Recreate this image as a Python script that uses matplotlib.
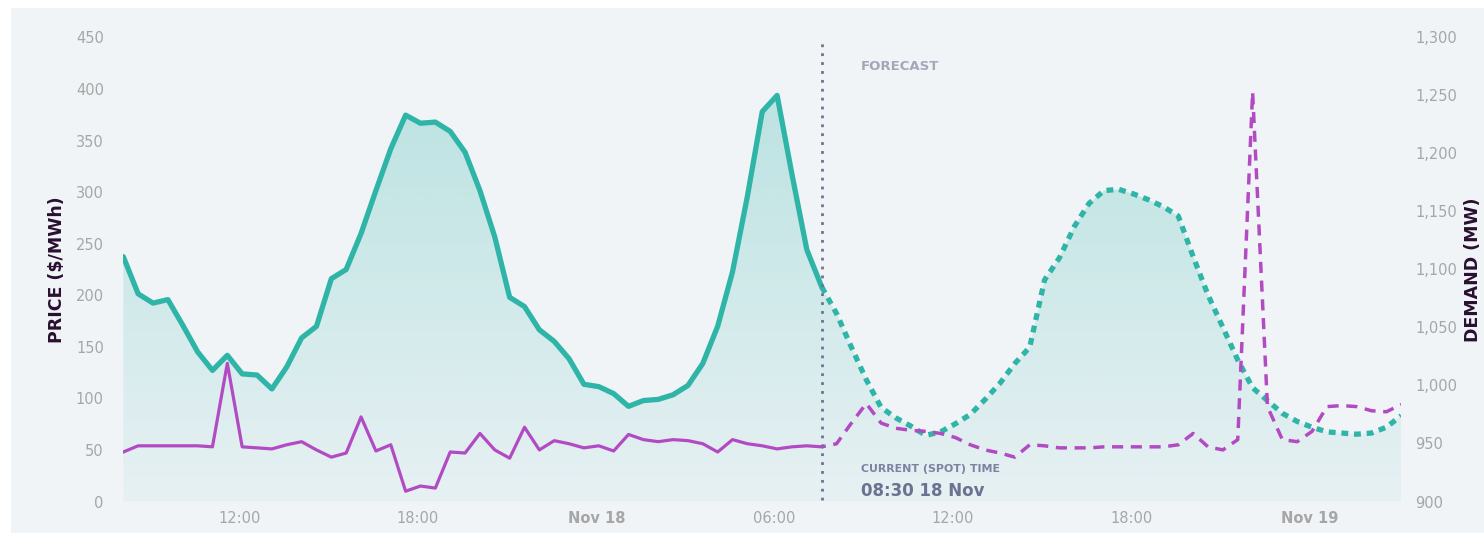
import numpy as np
import pandas as pd
import matplotlib
matplotlib.use('Agg')
import matplotlib.pyplot as plt
import matplotlib.dates as mdates
from matplotlib.patches import Rectangle

# Demand (MW) and price ($/MWh), half-hourly from 08:05 17 Nov
demand_actual = [1111, 1079, 1071, 1074, 1052, 1029, 1013, 1026, 1010, 1009, 997, 1016,
                 1041, 1051, 1092, 1100, 1131, 1168, 1204, 1233, 1226, 1227, 1219, 1201,
                 1168, 1128, 1076, 1068, 1048, 1038, 1023, 1001, 999, 993, 982, 987,
                 988, 992, 1000, 1019, 1051, 1098, 1163, 1236, 1250, 1182, 1117, 1085]
demand_forecast = [1062, 1033, 1005, 981, 972, 965, 957, 960, 967, 975, 988, 1002, 1019,
                   1033, 1091, 1110, 1137, 1157, 1168, 1169, 1165, 1160, 1154, 1146, 1111,
                   1078, 1050, 1022, 998, 987, 976, 969, 964, 960, 959, 958, 959, 964, 974]
price_actual = [48, 54, 54, 54, 54, 54, 53, 134, 53, 52, 51, 55, 58, 50, 43, 47, 82, 49,
                55, 10, 15, 13, 48, 47, 66, 50, 42, 72, 50, 59, 56, 52, 54, 49, 65, 60,
                58, 60, 59, 56, 48, 60, 56, 54, 51, 53, 54, 53]
price_forecast = [56, 76, 95, 76, 71, 69, 68, 66, 62, 55, 50, 47, 43, 55, 54, 52, 52, 52,
                  53, 53, 53, 53, 53, 55, 66, 53, 50, 60, 397, 92, 60, 58, 68, 92, 93, 92,
                  88, 87, 94]

n_act = len(demand_actual)
times = pd.date_range('2023-11-17 08:05', periods=n_act + len(demand_forecast), freq='30min')
t_act = times[:n_act]
t_fc = times[n_act - 1:]

tick_times = pd.to_datetime(['2023-11-17 12:00', '2023-11-17 18:00', '2023-11-18 00:00',
                             '2023-11-18 06:00', '2023-11-18 12:00', '2023-11-18 18:00',
                             '2023-11-19 00:00'])
tick_labels = ['12:00', '18:00', 'Nov 18', '06:00', '12:00', '18:00', 'Nov 19']

TEAL = '#2fb4a8'
PURPLE = '#b24bc3'
BG = '#f0f4f7'
W, H = 1484, 533

fig = plt.figure(figsize=(W / 100, H / 100), dpi=100)
fig.patch.set_facecolor('white')
fig.add_artist(Rectangle((11 / W, 0), 1 - 11 / W, 1 - 8 / H, transform=fig.transFigure,
                         facecolor=BG, edgecolor='none', zorder=-10))

x0, x1, ytop, ybot = 123.3, 1401.2, 37.4, 501.5
ax_d = fig.add_axes([x0 / W, 1 - ybot / H, (x1 - x0) / W, (ybot - ytop) / H])
ax_p = ax_d.twinx()
for a in (ax_d, ax_p):
    a.patch.set_visible(False)
    for s in a.spines.values():
        s.set_visible(False)

# demand: gradient fill + lines
d_all = demand_actual + demand_forecast
poly = ax_d.fill_between(times, d_all, 900, facecolor='none', edgecolor='none')
lev = np.linspace(900, 1300, 256)
grad = np.zeros((256, 1, 4))
grad[..., :3] = matplotlib.colors.to_rgb(TEAL)
grad[:, 0, 3] = np.interp(lev, [900, 1250], [0.05, 0.27])
xn = mdates.date2num(times)
im = ax_d.imshow(grad, extent=[xn[0], xn[-1], 900, 1300], origin='lower', aspect='auto',
                 interpolation='bilinear', zorder=1)
im.set_clip_path(poly.get_paths()[0], transform=ax_d.transData)

ax_d.plot(t_act, demand_actual, color=TEAL, lw=3.8, solid_joinstyle='round',
          solid_capstyle='round', zorder=3)
ax_d.plot(t_fc, [demand_actual[-1]] + demand_forecast, color=TEAL, lw=3.8,
          linestyle=(0, (1.3, 1.1)), dash_capstyle='butt', zorder=3)

# price lines
ax_p.plot(t_act, price_actual, color=PURPLE, lw=2.3, solid_joinstyle='round', zorder=4)
ax_p.plot(t_fc, [price_actual[-1]] + price_forecast, color=PURPLE, lw=2.5,
          linestyle=(2, (3.2, 2.2)), zorder=4)

ax_p.axvline(times[n_act - 1], ymin=0.003, ymax=0.99, color='#6d7390', lw=2.0,
             linestyle=(0, (1, 2.2)), zorder=5)

ax_d.set_xlim(times[0], times[-1])
ax_d.set_ylim(900, 1300)
ax_p.set_ylim(0, 450)

ax_d.set_yticks(range(900, 1301, 50))
ax_d.set_yticklabels([f'{v:,}' for v in range(900, 1301, 50)])
ax_p.set_yticks(range(0, 451, 50))
ax_d.yaxis.tick_right()
ax_p.yaxis.tick_left()

ax_d.set_xticks(tick_times)
ax_d.set_xticklabels(tick_labels)
for lab in ax_d.get_xticklabels():
    if lab.get_text().startswith('Nov'):
        lab.set_fontweight('bold')
        lab.set_color('#9b9b9b')

ax_d.tick_params(axis='x', length=0, pad=7, labelsize=10.5, labelcolor='#a6a6a6')
ax_d.tick_params(axis='y', length=0, pad=10, labelsize=10.5, labelcolor='#a6a6a6')
ax_p.tick_params(axis='y', length=0, pad=14, labelsize=10.5, labelcolor='#a6a6a6')

fig.text(56.7 / W, 1 - 270 / H, 'PRICE ($/MWh)', rotation=90, ha='center', va='center',
         fontsize=12.5, fontweight='bold', color='#2a1030')
fig.text(1482 / W, 1 - 270 / H, 'DEMAND (MW)', rotation=90, ha='right', va='center',
         fontsize=12.5, fontweight='bold', color='#2a1030')

fig.text(861 / W, 1 - 66.7 / H, 'FORECAST', ha='left', va='center', fontsize=9.5,
         fontweight='bold', color='#a3a7b8')
fig.text(861 / W, 1 - 469.3 / H, 'CURRENT (SPOT) TIME', ha='left', va='center',
         fontsize=7.9, fontweight='bold', color='#7c82a0')
fig.text(861 / W, 1 - 490.7 / H, '08:30 18 Nov', ha='left', va='center', fontsize=12,
         fontweight='bold', color='#6b7291')

fig.savefig('out.png', dpi=100, facecolor=fig.get_facecolor())
